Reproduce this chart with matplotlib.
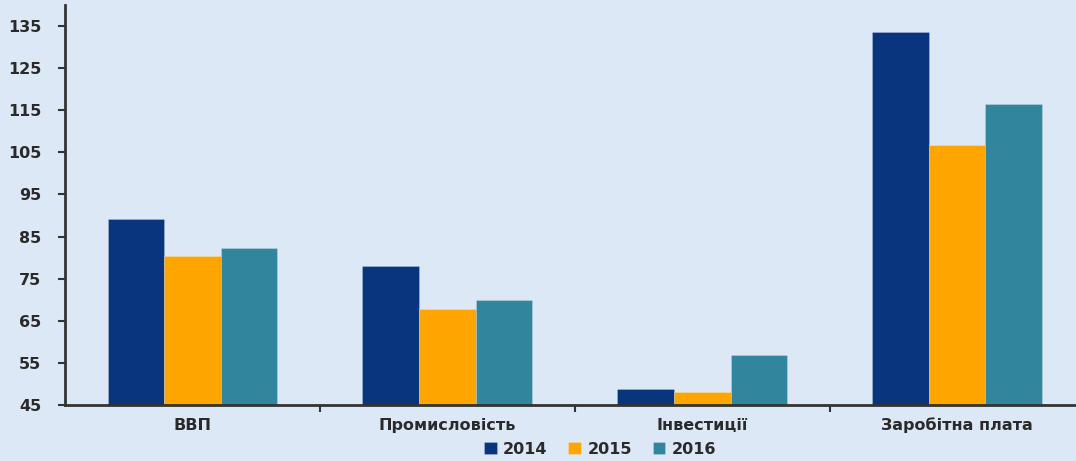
import matplotlib
matplotlib.use("Agg")
import matplotlib.pyplot as plt
import numpy as np

categories = ["ВВП", "Промисловість", "Інвестиції", "Заробітна плата"]
years = ["2014", "2015", "2016"]
v2014 = [89.2, 78.0, 48.8, 133.7]
v2015 = [80.4, 67.9, 48.1, 106.8]
v2016 = [82.3, 69.9, 56.8, 116.5]
yticks = [45, 55, 65, 75, 85, 95, 105, 115, 125, 135]

colors = ["#08357d", "#ffa500", "#31859c"]
bg = "#dde8f6"
tc = "#2a2a2a"

plt.rcParams['font.family'] = ['DejaVu Sans']
plt.rcParams['font.weight'] = 'bold'

fig = plt.figure(figsize=(10.76, 4.61), dpi=100, facecolor=bg)
ax = fig.add_axes([65/1076, 1 - 405/461, 1 - 65/1076 + 0.008, 400/461])
ax.set_facecolor(bg)

x = np.arange(len(categories))
w = 0.222
for i, (vals, lab) in enumerate(zip([v2014, v2015, v2016], years)):
    ax.bar(x + (i - 1) * w, np.array(vals) - 45, w, bottom=45, color=colors[i],
           label=lab, edgecolor=(1, 1, 1, 0.25), linewidth=0.6)

ax.set_ylim(45, 140)
ax.set_xlim(-0.5, 3.5)
ax.set_yticks(yticks)
ax.set_yticklabels([str(t) for t in yticks], fontsize=11.5, color=tc, fontweight='bold')
ax.set_xticks(x)
ax.set_xticklabels(categories, fontsize=11.5, color=tc, fontweight='bold')
ax.tick_params(axis='x', length=0, pad=9)
ax.set_xticks(np.arange(0.5, 3.5, 1), minor=True)
ax.tick_params(axis='x', which='minor', length=5, width=1.5, color="#333333", direction='out')
ax.tick_params(axis='y', length=5, width=1.5, color="#333333", direction='out', pad=12)

for s in ['top', 'right']:
    ax.spines[s].set_visible(False)
for s in ['left', 'bottom']:
    ax.spines[s].set_color("#333333")
    ax.spines[s].set_linewidth(2)

leg = fig.legend(loc='center', bbox_to_anchor=(600/1076, 1 - 449/461), ncol=3, frameon=False,
                 fontsize=11.5, handlelength=0.8, handleheight=0.8, handletextpad=0.4,
                 columnspacing=1.3)
for t in leg.get_texts():
    t.set_color(tc)
    t.set_fontweight('bold')

fig.savefig("out.png", dpi=100, facecolor=bg)
